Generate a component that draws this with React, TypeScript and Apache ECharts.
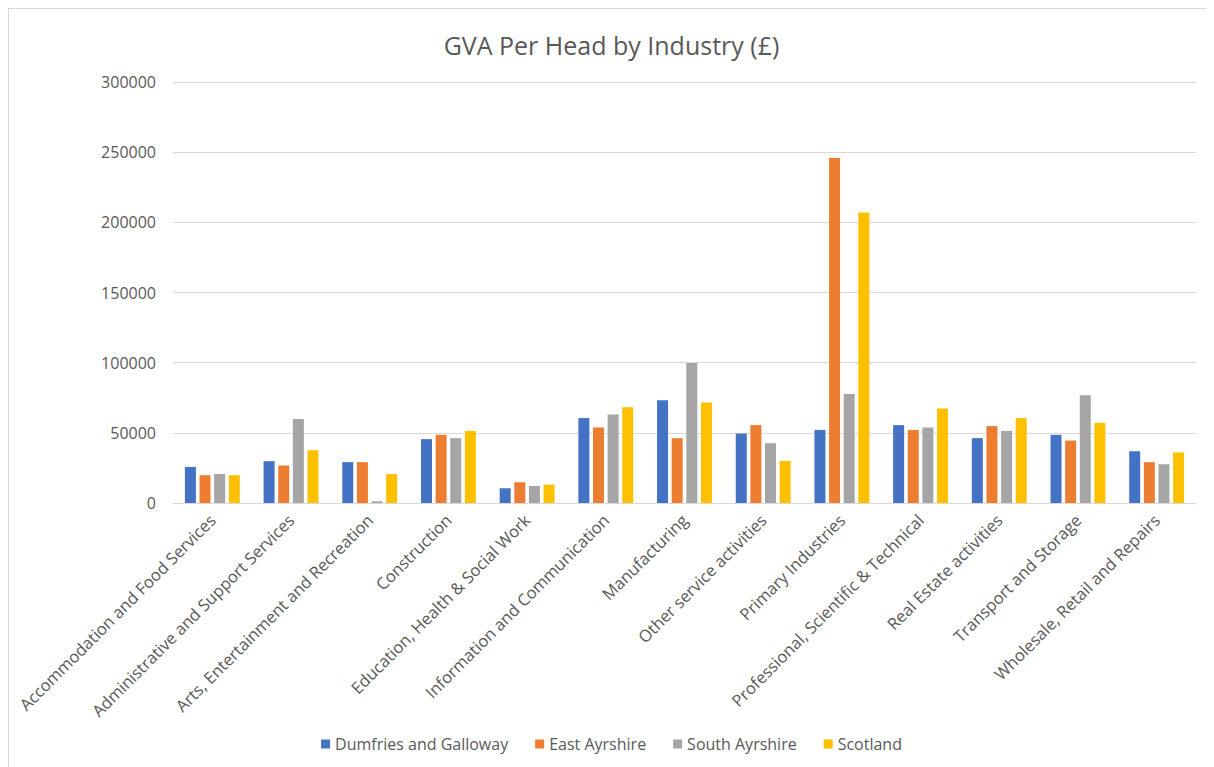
import React, { useEffect, useRef } from "react";
import * as echarts from "echarts";

const categories = [
  "Accommodation and Food Services",
  "Administrative and Support Services",
  "Arts, Entertainment and Recreation",
  "Construction",
  "Education, Health & Social Work",
  "Information and Communication",
  "Manufacturing",
  "Other service activities",
  "Primary Industries",
  "Professional, Scientific & Technical",
  "Real Estate activities",
  "Transport and Storage",
  "Wholesale, Retail and Repairs",
];

const dumfriesGalloway = [25700, 29800, 29100, 45500, 10500, 60500, 73300, 49500, 52100, 55500, 46200, 48600, 36900];
const eastAyrshire = [19800, 26700, 29100, 48600, 14800, 53800, 46200, 55500, 245900, 52100, 54800, 44500, 29100];
const southAyrshire = [20700, 59800, 1200, 46200, 12100, 63100, 99800, 42600, 77600, 53800, 51400, 76700, 27600];
const scotland = [19800, 37600, 20700, 51400, 13100, 68300, 71700, 30000, 207000, 67400, 60500, 57100, 36000];

const seriesNames = ["Dumfries and Galloway", "East Ayrshire", "South Ayrshire", "Scotland"];
const seriesColors = ["#4472C4", "#ED7D31", "#A5A5A5", "#FFC000"];
const seriesData = [dumfriesGalloway, eastAyrshire, southAyrshire, scotland];

const FONT = "'Open Sans', 'Noto Sans', sans-serif";
const TEXT = "#595959";

export default function App() {
  const ref = useRef<HTMLDivElement>(null);
  useEffect(() => {
    if (!ref.current) return;
    const chart = echarts.init(ref.current, undefined, { renderer: "svg" });
    chart.setOption({
      animation: false,
      backgroundColor: "#ffffff",
      title: {
        text: "GVA Per Head by Industry (£)",
        left: "center",
        top: 18,
        textStyle: { fontFamily: FONT, fontSize: 25, fontWeight: "normal", color: TEXT },
      },
      legend: {
        bottom: 10,
        left: "center",
        itemWidth: 9,
        itemHeight: 9,
        itemGap: 27,
        icon: "rect",
        textStyle: { fontFamily: FONT, fontSize: 16, color: TEXT },
        data: seriesNames,
      },
      grid: { left: 164, right: 18, top: 73, bottom: 264 },
      xAxis: {
        type: "category",
        data: categories,
        axisLine: { lineStyle: { color: "#d9d9d9" } },
        axisTick: { show: false },
        axisLabel: {
          interval: 0,
          rotate: 45,
          margin: 14,
          fontFamily: FONT,
          fontSize: 16.5,
          color: TEXT,
        },
      },
      yAxis: {
        type: "value",
        min: 0,
        max: 300000,
        interval: 50000,
        axisLine: { show: false },
        axisTick: { show: false },
        splitLine: { lineStyle: { color: "#d9d9d9", width: 1 } },
        axisLabel: {
          fontFamily: FONT,
          fontSize: 16,
          color: TEXT,
          margin: 17,
          formatter: (v: number) => String(v),
        },
      },
      series: seriesData.map((d, i) => ({
        name: seriesNames[i],
        type: "bar",
        data: d,
        barWidth: 11,
        barGap: "33%",
        itemStyle: { color: seriesColors[i] },
      })),
    });
    return () => chart.dispose();
  }, []);
  return (
    <div
      style={{
        width: 1205,
        height: 758,
        borderTop: "1px solid #d9d9d9",
        borderLeft: "1px solid #d9d9d9",
        background: "#fff",
      }}
    >
      <div ref={ref} style={{ width: 1205, height: 758 }} />
    </div>
  );
}
